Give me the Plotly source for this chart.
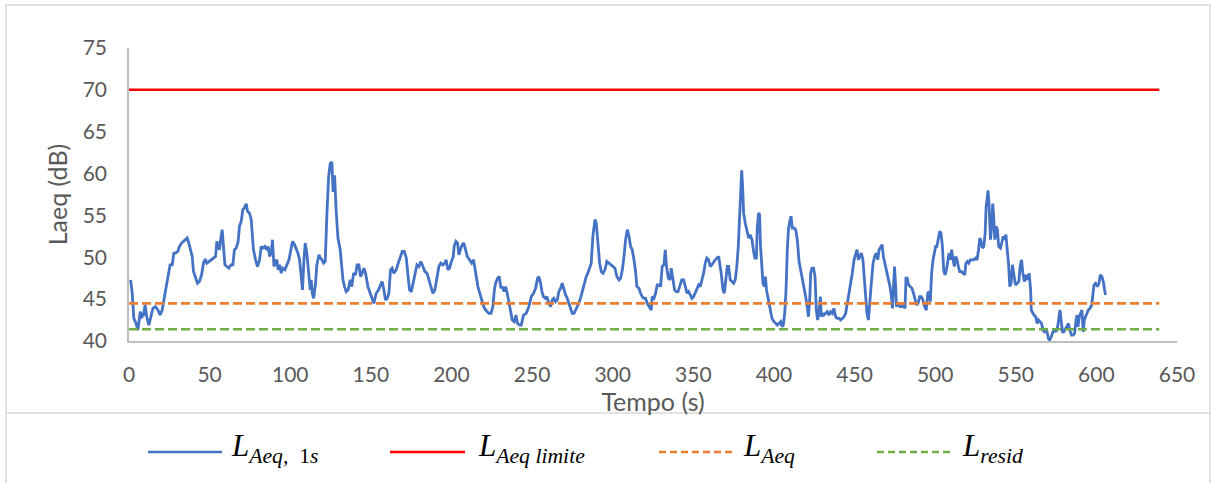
import plotly.graph_objects as go

# ---- data ----
tempo_s = [
    1, 2, 3, 4.4, 5.5, 6.5, 7, 8, 9, 10, 11, 12.3, 13.7, 14.8, 16.4, 17.9, 19.3, 20.6, 22, 23,
    24.3, 25.5, 26.8, 27.8, 28.8, 30.3, 31.3, 32.6, 33.8, 35, 36.1, 37.1, 38.1, 39.2, 40, 41.2, 42.5, 43.7, 45, 46.2,
    47.3, 48.3, 49.5, 51, 52.4, 53.7, 54.5, 55.3, 56.1, 57, 57.8, 58.6, 59.5, 60.7, 61.9, 63.2, 64.4, 65.4, 66.5, 67.7,
    68.5, 69.6, 70.6, 71.6, 72.7, 73.5, 74.7, 75.8, 76.4, 77.2, 78.5, 79.7, 81, 82, 83, 84.3, 85.5, 86.3, 87.2, 88.2,
    89, 89.9, 91, 91.7, 92.5, 93.4, 94.4, 95.4, 96.7, 97.9, 99.2, 100.4, 101.5, 102.7, 103.7, 104.8, 105.8, 106.8, 107.6, 108.5,
    109.3, 110.3, 111.4, 112.4, 113, 113.7, 114.5, 115.7, 116.5, 117.8, 118.8, 119.7, 120.7, 121.7, 122.7, 123.8, 124.8, 125.8, 126.6, 127.5,
    128.5, 129.6, 131, 131.8, 132.7, 133.7, 134.7, 135.9, 137.2, 138.2, 139.3, 140.5, 141.5, 142.6, 143.6, 144.6, 145.7, 146.7, 148.2, 149.6,
    150.9, 151.9, 153.3, 154.8, 156, 157, 158.1, 159.1, 160.2, 161.2, 162.2, 163.2, 164.3, 165.7, 167, 168.2, 169.5, 170.7, 172, 173,
    174, 175.1, 176.3, 177.5, 178.6, 179.8, 181, 182.3, 183.5, 184.8, 186, 187.2, 188.5, 189.7, 190.9, 192.2, 193.4, 194.7, 195.9, 196.7,
    197.8, 198.8, 200, 201.1, 201.7, 202.8, 203.8, 204.6, 205.5, 206.7, 207.7, 208.7, 209.8, 211.2, 212.5, 213.7, 215, 216.4, 217.6, 218.9,
    220, 221.2, 222.2, 223.2, 224.5, 225.7, 226.6, 227.4, 228.6, 229.6, 230.7, 231.5, 232.6, 233.6, 234.6, 235.6, 236.7, 237.7, 238.9, 240,
    241, 242.3, 243.3, 244.7, 246.4, 248, 249.5, 250.9, 252.2, 253.4, 254.2, 255.3, 256.1, 257.1, 258.2, 259.2, 260.4, 261.5, 262.5, 263.5,
    264.6, 265.6, 266.6, 267.7, 268.7, 269.7, 270.8, 271.8, 272.8, 273.9, 274.9, 276, 277, 278, 279, 280.3, 281.5, 282.6, 283.6, 284.6,
    285.7, 286.7, 287.7, 289, 289.8, 290.8, 291.9, 292.9, 294, 295.2, 296.4, 297.7, 298.9, 300.2, 301.4, 302.6, 303.9, 304.9, 306, 307,
    308, 309.1, 310.1, 311.1, 312.1, 313.2, 314.2, 315, 316.3, 317.3, 318.3, 319.4, 320.4, 321.4, 322.9, 323.9, 324.5, 325.6, 326.6, 327.6,
    328.7, 329.7, 330.7, 331.8, 332.6, 333.4, 334.5, 335.5, 336.3, 337.4, 338.4, 339.4, 340.5, 341.5, 342.8, 344, 345, 346.1, 347.1, 348.2,
    349.2, 350.2, 351.2, 352.3, 353.3, 354.3, 355.4, 356.4, 357.4, 358.4, 359.5, 360.5, 361.5, 362.6, 363.6, 364.6, 365.7, 367.3, 368.4, 369.2,
    370, 371.1, 371.9, 372.9, 374, 375, 376, 377, 377.9, 378.7, 379.4, 380, 380.6, 381.2, 382.2, 383.3, 384.3, 385.3, 386.4, 387.4,
    388.2, 389.1, 389.7, 390.5, 391.1, 391.7, 392.4, 393.2, 394.1, 394.7, 395.4, 396.1, 397, 397.8, 398.8, 400.1, 401.1, 402.1, 403.1, 404.2,
    405, 405.8, 406.7, 407.5, 408.3, 409, 409.8, 410.6, 411.4, 412.4, 413.5, 414.5, 415.6, 416.6, 417.7, 418.7, 419.7, 420.6, 421.4, 422.2,
    422.8, 423.6, 424.6, 425.5, 426.3, 427.1, 427.9, 428.8, 429.4, 430.2, 431, 432, 433.1, 434.1, 435.2, 436.2, 437.2, 438.3, 439.3, 440.4,
    441.4, 442.4, 443.5, 444.5, 445.5, 446.6, 447.6, 448.6, 449.7, 450.7, 451.5, 452.4, 453.2, 454.2, 455.2, 456.1, 456.9, 457.7, 458.6, 459.4,
    460.4, 461.5, 462.5, 463.5, 464.4, 465.2, 466.2, 467.1, 467.9, 468.9, 470, 471, 472, 472.9, 473.5, 474.1, 474.8, 475.4, 476, 477.1,
    478.2, 479.2, 480.2, 481.3, 481.9, 482.7, 483.5, 484.5, 485.6, 486.6, 487.6, 488.4, 489.4, 490.4, 491.4, 492.4, 493.5, 494.5, 495.4, 496.2,
    497, 497.8, 498.7, 499.6, 500.3, 501.1, 501.9, 502.8, 503.6, 504.5, 505.3, 506.1, 507, 507.8, 508.6, 509.4, 510.2, 511.1, 511.9, 512.7,
    513.6, 514.4, 515.2, 516.2, 517.3, 518.3, 519.1, 520, 520.8, 521.8, 522.9, 523.9, 525, 526, 526.9, 527.7, 528.5, 529.3, 530.2, 531,
    531.6, 532.2, 532.8, 533.4, 534.3, 535.1, 535.7, 536.3, 537, 537.8, 538.6, 539.4, 540.5, 541.3, 542.2, 543, 543.9, 544.6, 545.5, 546.3,
    547.1, 547.9, 548.8, 549.8, 550.9, 551.9, 552.7, 553.6, 554.4, 555.4, 556.4, 557.4, 558.3, 559.2, 559.6, 560.4, 561.3, 562.4, 563.3, 564.1,
    564.9, 566, 566.8, 567.7, 568.6, 569.4, 570.2, 571, 572, 573.1, 574.1, 575, 576, 576.8, 577.4, 578.1, 579, 579.8, 580.8, 581.9,
    582.7, 583.5, 584.6, 585.6, 586.5, 587.4, 588, 588.6, 589.4, 590.2, 591, 591.9, 592.5, 593.3, 594.2, 595, 596, 597.1, 597.7, 598.5,
    599.5, 600.6, 601.6, 602.4, 603.4, 604.3, 605.1, 605.7,
]
laeq_1s = [
    47.3, 45.7, 42.7, 42.1, 41.3, 42.5, 43.5, 42.9, 43.1, 44.3, 42.9, 41.9, 43.1, 43.9, 44.1, 43.7, 43.1, 43.7, 45.3, 46.5,
    47.5, 49.1, 49.1, 50.5, 50.5, 50.7, 51.3, 51.7, 51.9, 52.1, 52.3, 51.7, 50.9, 50.1, 48.3, 47.5, 46.9, 47.1, 47.9, 49.3,
    49.8, 49.3, 49.5, 49.7, 49.9, 50.1, 51.9, 51.5, 50.9, 52.3, 53.3, 51.3, 49.1, 48.9, 48.7, 49.1, 49.1, 50.9, 51.1, 51.9,
    53.7, 54.3, 55.7, 55.9, 56.4, 55.5, 55.3, 54.5, 52.5, 50.9, 49.7, 48.9, 49.7, 51.3, 51.1, 51.3, 50.9, 51.3, 50.1, 50.5,
    52.1, 48.9, 49.5, 49.7, 48.5, 49.1, 48.1, 48.7, 48.5, 49.1, 49.7, 50.9, 51.9, 51.5, 51.1, 50.5, 49.7, 48.1, 46.1, 49.7,
    51.7, 50.5, 48.5, 46.1, 47.3, 45.7, 45.1, 46.9, 49.1, 50.3, 49.9, 49.7, 49.3, 49.5, 54.9, 59.6, 61.2, 61.4, 57.8, 59.8,
    55.5, 52.3, 50.9, 48.9, 47.3, 46.5, 45.9, 46.1, 47.3, 46.5, 48.1, 47.9, 49.1, 49.1, 47.7, 48.1, 48.7, 48.1, 46.5, 45.7,
    45.1, 44.5, 45.7, 46.1, 46.7, 47.1, 46.1, 44.9, 45.1, 45.7, 48.5, 48.7, 48.1, 48.5, 49.3, 50.1, 50.7, 50.7, 49.9, 47.9,
    46.1, 45.9, 46.9, 48.1, 49.1, 48.9, 49.5, 48.9, 48.3, 48.1, 47.3, 46.3, 45.7, 46.1, 47.5, 48.9, 49.3, 49.1, 49.3, 49.7,
    48.5, 48.7, 49.5, 50.1, 51.3, 51.9, 51.7, 50.3, 50.9, 51.5, 51.7, 50.9, 50.1, 49.7, 49.3, 49.7, 47.9, 46.5, 45.7, 44.7,
    44.1, 43.7, 43.5, 43.3, 43.3, 44.1, 46.1, 46.9, 47.5, 47.7, 46.3, 46.5, 45.9, 46.5, 45.7, 44.5, 43.7, 42.5, 42.3, 43.1,
    42.1, 41.9, 41.9, 43.1, 43.3, 44.1, 45.3, 45.7, 46.3, 47.5, 47.7, 46.9, 45.9, 45.3, 45.1, 45.3, 44.5, 44.1, 44.9, 45.1,
    44.7, 44.9, 45.9, 46.3, 46.9, 46.1, 45.5, 45.1, 44.5, 43.7, 43.3, 43.3, 43.7, 44.1, 44.5, 45.3, 46.1, 47.1, 47.7, 48.1,
    48.7, 49.3, 52.5, 54.5, 54.1, 51.7, 49.3, 48.3, 48.1, 48.5, 49.5, 49.3, 49.1, 48.9, 48.7, 47.7, 47.3, 47.5, 48.5, 50.1,
    52.1, 53.3, 52.5, 51.3, 50.9, 49.7, 48.3, 46.5, 46.3, 45.7, 45.3, 45.1, 45.1, 44.5, 44.1, 43.7, 45.3, 45.1, 45.7, 46.7,
    46.7, 46.5, 48.9, 49.1, 50.9, 48.9, 47.5, 47.3, 48.7, 47.5, 46.1, 45.9, 45.9, 46.5, 47.3, 47.3, 46.5, 45.7, 45.9, 45.5,
    45.1, 45.3, 45.7, 46.1, 46.7, 46.5, 47.3, 48.1, 49.3, 49.9, 49.7, 48.9, 49.1, 49.5, 49.7, 49.9, 50.1, 48.1, 46.1, 45.7,
    47.3, 48.9, 48.9, 47.3, 47.1, 46.9, 47.3, 48.9, 51.3, 54.9, 58.0, 60.4, 58.4, 55.3, 54.1, 52.9, 52.3, 52.7, 52.1, 50.7,
    49.9, 49.9, 53.7, 55.3, 55.1, 51.3, 48.9, 46.9, 46.5, 47.7, 46.1, 45.3, 44.7, 43.7, 42.7, 42.3, 42.1, 41.9, 42.1, 42.3,
    41.7, 41.9, 43.3, 46.1, 50.9, 53.3, 54.3, 54.9, 53.5, 53.5, 53.3, 52.1, 49.5, 48.5, 47.5, 46.5, 45.3, 44.1, 42.9, 44.9,
    48.1, 48.7, 48.7, 47.7, 43.7, 42.5, 43.3, 45.3, 42.9, 43.3, 43.1, 43.3, 43.5, 43.1, 43.5, 43.3, 43.9, 42.9, 42.7, 42.7,
    42.5, 42.7, 42.9, 43.3, 44.5, 45.3, 46.5, 48.1, 49.7, 50.5, 50.9, 49.7, 50.1, 50.5, 49.7, 47.7, 45.3, 43.3, 42.5, 44.1,
    46.9, 49.3, 50.1, 50.5, 49.7, 50.9, 51.3, 51.5, 50.1, 49.3, 48.1, 47.3, 46.5, 45.3, 43.9, 46.1, 48.9, 46.9, 44.1, 44.5,
    44.1, 44.1, 44.3, 43.9, 47.5, 47.5, 46.7, 46.5, 46.3, 45.7, 44.9, 44.3, 44.5, 45.3, 45.3, 44.9, 44.1, 43.7, 45.7, 45.9,
    44.7, 48.1, 49.7, 50.9, 51.3, 51.3, 52.1, 53.1, 52.9, 51.3, 48.5, 47.9, 48.5, 49.7, 50.5, 49.7, 50.9, 49.7, 48.9, 50.1,
    49.7, 48.9, 48.3, 48.3, 48.1, 47.9, 49.3, 49.5, 49.3, 49.7, 49.7, 49.7, 49.9, 49.7, 50.9, 52.3, 51.9, 51.1, 51.3, 52.9,
    56.0, 57.6, 58.0, 56.4, 52.1, 53.7, 56.4, 54.9, 52.1, 53.7, 53.3, 51.3, 51.1, 51.7, 52.5, 52.1, 52.7, 51.1, 49.3, 46.5,
    46.9, 49.1, 47.7, 46.7, 46.9, 47.1, 48.9, 49.7, 48.1, 47.1, 47.9, 47.3, 48.1, 46.1, 43.7, 43.3, 43.1, 42.9, 42.1, 42.5,
    42.3, 42.1, 41.3, 41.1, 41.3, 41.1, 40.3, 40.1, 40.5, 41.1, 41.3, 41.1, 41.7, 42.9, 43.7, 42.5, 41.1, 41.1, 41.5, 41.9,
    42.1, 41.3, 40.7, 40.7, 40.9, 42.5, 43.1, 41.7, 42.9, 43.3, 43.7, 41.1, 42.5, 42.9, 43.3, 43.7, 43.9, 44.3, 45.3, 46.7,
    46.9, 46.5, 46.9, 47.9, 47.7, 47.1, 46.1, 45.5,
]

ref_tempo_s = [0, 639]
laeq_limite = [70.0, 70.0]
laeq_global = [44.5, 44.5]
l_resid = [41.4, 41.4]

x_ticks = [0, 50, 100, 150, 200, 250, 300, 350, 400, 450, 500, 550, 600, 650]
y_ticks = [40, 45, 50, 55, 60, 65, 70, 75]

legend_labels = [
    "<i>L</i><sub><i>Aeq,</i>  1<i>s</i></sub>",
    "<i>L</i><sub><i>Aeq limite</i></sub>",
    "<i>L</i><sub><i>Aeq</i></sub>",
    "<i>L</i><sub><i>resid</i></sub>",
]

BLUE = "#4472C4"
RED = "#FF0000"
ORANGE = "#ED7D31"
GREEN = "#70AD47"
TXT = "#595959"
AXIS = "#BFBFBF"
BORDER = "#D9D9D9"

W, H = 1211, 483
ML, MR, MT, MB = 129, 34, 48, 142
PW, PH = W - ML - MR, H - MT - MB


def px_x(p):
    return (p - ML) / PW


def px_y(p):
    return (H - MB - p) / PH


fig = go.Figure()
fig.add_trace(go.Scatter(x=tempo_s, y=laeq_1s, mode="lines", name="L Aeq, 1s",
                         line=dict(color=BLUE, width=2.8), showlegend=False))
fig.add_trace(go.Scatter(x=ref_tempo_s, y=laeq_limite, mode="lines", name="L Aeq limite",
                         line=dict(color=RED, width=2.5), showlegend=False))
fig.add_trace(go.Scatter(x=ref_tempo_s, y=laeq_global, mode="lines", name="L Aeq",
                         line=dict(color=ORANGE, width=2.6, dash="9px,4px"), showlegend=False))
fig.add_trace(go.Scatter(x=ref_tempo_s, y=l_resid, mode="lines", name="L resid",
                         line=dict(color=GREEN, width=2.6, dash="9px,4px"), showlegend=False))

shapes = [
    dict(type="rect", xref="paper", yref="paper", x0=px_x(6), x1=px_x(1210), y0=px_y(490), y1=px_y(5),
         line=dict(color=BORDER, width=1.5), layer="below"),
    dict(type="line", xref="paper", yref="paper", x0=px_x(6), x1=px_x(1210), y0=px_y(413), y1=px_y(413),
         line=dict(color=BORDER, width=1.5)),
]
annotations = []
leg_y = px_y(452)
samples = [(148, 222, 229, BLUE, "solid"), (390, 465, 476, RED, "solid"),
           (659, 736, 741, ORANGE, "7px,4px"), (877, 951, 960, GREEN, "7px,4px")]
for (a, b, t, c, d), lab in zip(samples, legend_labels):
    shapes.append(dict(type="line", xref="paper", yref="paper", x0=px_x(a), x1=px_x(b),
                       y0=leg_y, y1=leg_y, line=dict(color=c, width=2.5, dash=d)))
    annotations.append(dict(xref="paper", yref="paper", x=px_x(t), y=leg_y + 0.012, text=lab,
                            showarrow=False, xanchor="left", yanchor="middle",
                            font=dict(family="Liberation Serif", size=31, color="#000000")))

fig.update_layout(
    width=W, height=H,
    margin=dict(l=ML, r=MR, t=MT, b=MB),
    paper_bgcolor="white", plot_bgcolor="white",
    font=dict(family="Lato", size=21, color=TXT),
    shapes=shapes, annotations=annotations,
    showlegend=False,
)
fig.update_xaxes(range=[0, 650], tickvals=x_ticks, showgrid=False, zeroline=False,
                 showline=True, linecolor=AXIS, linewidth=1.5, ticks="",
                 ticklabelstandoff=14, tickfont=dict(size=21, color=TXT),
                 title=dict(text="Tempo (s)", font=dict(size=25, color=TXT), standoff=0))
fig.update_yaxes(range=[40, 75], tickvals=y_ticks, showgrid=False, zeroline=False,
                 showline=True, linecolor=AXIS, linewidth=1.5, ticks="",
                 ticklabelstandoff=16, tickfont=dict(size=21, color=TXT),
                 title=dict(text="Laeq (dB)", font=dict(size=25, color=TXT), standoff=8))

fig.write_html("out.html", config={"displayModeBar": False},
               post_script="document.body.style.margin='0';")
